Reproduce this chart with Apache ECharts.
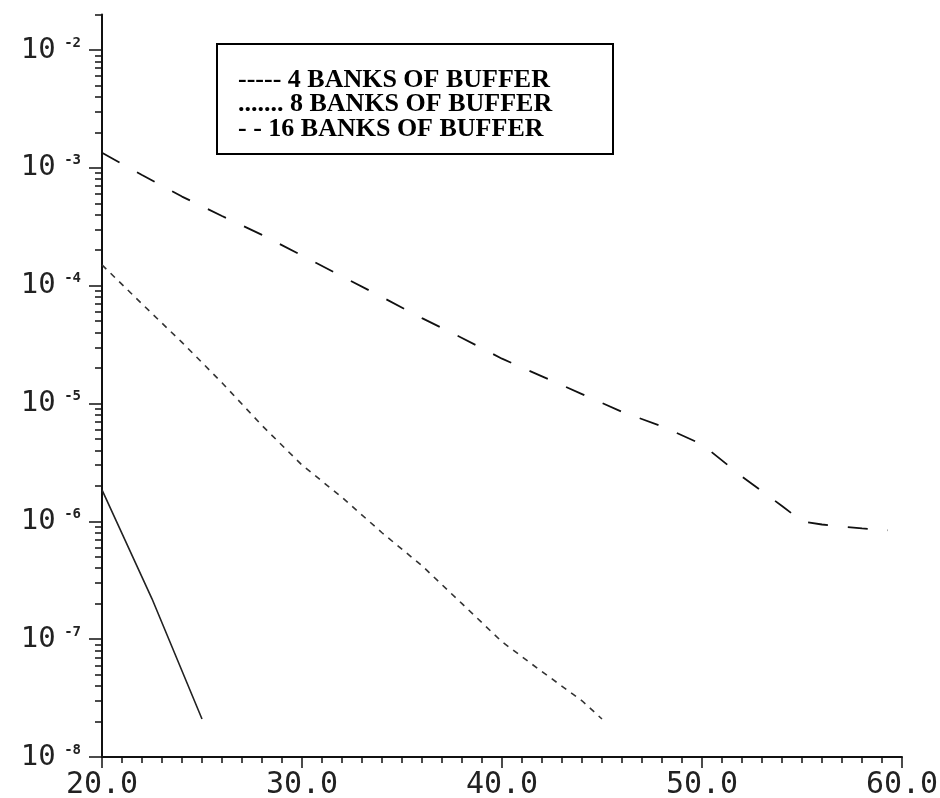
<!DOCTYPE html>
<html>
<head>
<meta charset="utf-8">
<script src="https://cdn.jsdelivr.net/npm/echarts@6/dist/echarts.min.js"></script>
<style>
html,body{margin:0;padding:0;background:#fff;}
#chart{width:940px;height:798px;}
</style>
</head>
<body>
<div id="chart"></div>
<script>
// ---- data ----
const seriesNames = ['4 BANKS OF BUFFER', '8 BANKS OF BUFFER', '16 BANKS OF BUFFER'];
const legendPrefixes = ['----- ', '....... ', '- - '];

const banks4X = [20, 22.5, 25];
const banks4Y = [1.85e-6, 2.2e-7, 2.1e-8];

const banks8X = [20, 22, 24, 26, 28, 30, 32, 34, 36, 38, 40, 42, 44, 45];
const banks8Y = [1.5e-4, 7e-5, 3.3e-5, 1.5e-5, 6.5e-6, 3.0e-6, 1.6e-6, 8e-7, 4.2e-7, 2.0e-7, 9.5e-8, 5.3e-8, 3.0e-8, 2.1e-8];

const banks16X = [20, 22, 24, 26, 28, 30, 32, 34, 36, 38, 40, 42, 44, 46, 48, 50, 52, 54, 55, 56, 58, 59.3];
const banks16Y = [1.34e-3, 8.7e-4, 5.7e-4, 3.9e-4, 2.7e-4, 1.8e-4, 1.2e-4, 8e-5, 5.3e-5, 3.6e-5, 2.4e-5, 1.7e-5, 1.2e-5, 8.5e-6, 6.4e-6, 4.5e-6, 2.4e-6, 1.35e-6, 1.0e-6, 9.4e-7, 8.7e-7, 8.4e-7];

const xTicks = [20, 30, 40, 50, 60];
const yDecades = [1e-8, 1e-7, 1e-6, 1e-5, 1e-4, 1e-3, 1e-2];
const yMin = 1e-8, yMax = 2e-2;

// minor tick positions on the log axis (2..9 x 10^n) plus the axis end
const yMinor = [];
yDecades.slice(0, -1).forEach(d => { for (let k = 2; k <= 9; k++) yMinor.push(+(k * d).toPrecision(3)); });
yMinor.push(yMax);

const zip = (xs, ys) => xs.map((x, i) => [x, ys[i]]);

const chart = echarts.init(document.getElementById('chart'));
const ink = '#111';
const labelFont = 'DejaVu Sans Mono';

chart.setOption({
  backgroundColor: '#fff',
  animation: false,
  grid: { left: 102, right: 38, top: 14.5, bottom: 41, outerBoundsMode: 'none' },
  xAxis: {
    type: 'value', min: 20, max: 60, interval: 10,
    axisLine: { lineStyle: { color: ink, width: 2 } },
    axisTick: { show: true, length: 11, lineStyle: { color: ink, width: 1.5 } },
    minorTick: { show: true, splitNumber: 10, length: 6, lineStyle: { color: ink, width: 1.5 } },
    splitLine: { show: false },
    axisLabel: {
      color: '#222', fontFamily: labelFont, fontSize: 30, margin: 13,
      formatter: v => xTicks.includes(v) ? v.toFixed(1) : ''
    }
  },
  yAxis: [{
    type: 'log', logBase: 10, min: yMin, max: yMax,
    axisLine: { show: true, onZero: false, lineStyle: { color: ink, width: 2 } },
    axisTick: { show: true, length: 13, customValues: yDecades, lineStyle: { color: ink, width: 1.5 } },
    splitLine: { show: false },
    axisLabel: {
      customValues: yDecades, margin: 21,
      formatter: v => '{b|10}{e| ' + Math.round(Math.log10(v)) + '}',
      rich: {
        b: { fontFamily: labelFont, fontSize: 29, color: '#222', lineHeight: 30 },
        e: { fontFamily: labelFont, fontSize: 14, fontWeight: 'bold', color: '#222', lineHeight: 14, padding: [0, 0, 14, 0] }
      }
    }
  }, {
    type: 'log', logBase: 10, min: yMin, max: yMax, position: 'left',
    axisLine: { show: false },
    axisTick: { show: true, length: 7, customValues: yMinor, lineStyle: { color: ink, width: 1.5 } },
    axisLabel: { show: false },
    splitLine: { show: false }
  }],
  series: [
    { name: seriesNames[0], type: 'line', yAxisIndex: 0, showSymbol: false, data: zip(banks4X, banks4Y),
      lineStyle: { color: '#222', width: 1.6, type: 'solid' } },
    { name: seriesNames[1], type: 'line', yAxisIndex: 0, showSymbol: false, data: zip(banks8X, banks8Y),
      lineStyle: { color: '#333', width: 1.6, type: [6, 6] } },
    { name: seriesNames[2], type: 'line', yAxisIndex: 0, showSymbol: false, data: zip(banks16X, banks16Y),
      lineStyle: { color: '#111', width: 1.8, type: [20, 20] } }
  ],
  graphic: [{
    type: 'group', left: 216, top: 43,
    children: [
      { type: 'rect', shape: { x: 0, y: 0, width: 396, height: 110 },
        style: { fill: '#fff', stroke: '#000', lineWidth: 2 } },
      ...seriesNames.map((n, i) => ({
        type: 'text', x: 21, y: 36 + i * 24.5,
        style: { text: legendPrefixes[i] + n, fill: '#000', font: 'bold 26px "Liberation Serif"', textVerticalAlign: 'middle' }
      }))
    ]
  }]
});
</script>
</body>
</html>
